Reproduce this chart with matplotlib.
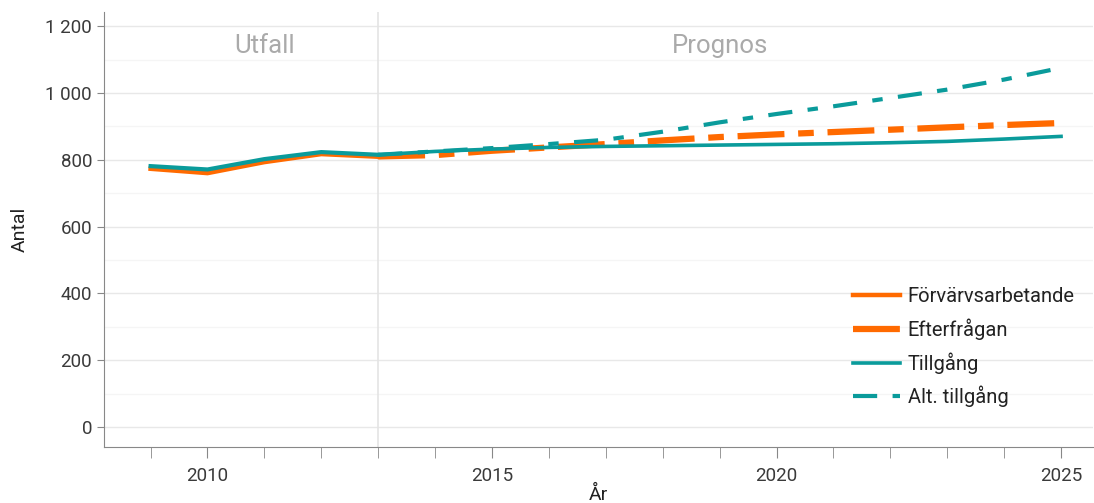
import matplotlib
matplotlib.use("Agg")
import matplotlib.pyplot as plt
from matplotlib.ticker import MultipleLocator, FuncFormatter

plt.rcParams['font.family'] = ['Roboto', 'DejaVu Sans']

# utfall
hist_years = [2009, 2010, 2011, 2012, 2013]
forvarvsarbetande = [773, 760, 793, 817, 809]
tillgang_hist = [781, 771, 802, 823, 815]

# prognos
prog_years = list(range(2013, 2026))
efterfragan = [810, 814, 827, 837, 847, 858, 868, 876, 883, 890, 897, 904, 910]
tillgang = [815, 825, 832, 837, 840, 842, 844, 846, 848, 851, 855, 862, 870]
alt_tillgang = [815, 825, 835, 847, 860, 884, 912, 937, 960, 985, 1010, 1040, 1075]

orange = '#ff6a00'
teal = '#0a9b9b'

fig = plt.figure(figsize=(10.94, 5.03), dpi=100)
ax = fig.add_axes([0.095, 0.111, 0.904, 0.865])

ax.plot(hist_years, forvarvsarbetande, color=orange, lw=3.2, label='Förvärvsarbetande', zorder=3)
ax.plot(prog_years, efterfragan, color=orange, lw=4.5, dashes=(7.5, 2.2, 2.5, 2.2), label='Efterfrågan', zorder=3)
ax.plot(hist_years, tillgang_hist, color=teal, lw=3.0, zorder=4)
ax.plot(prog_years, tillgang, color=teal, lw=2.6, label='Tillgång', zorder=4)
ax.plot(prog_years, alt_tillgang, color=teal, lw=3.0, dashes=(5.8, 3.7, 2.5, 3.7), label='Alt. tillgång', zorder=4)

ax.axvline(2013, color='#e4e4e4', lw=1.2, zorder=1)
ax.text(2011, 1140, 'Utfall', color='#aaaaaa', fontsize=18.5, ha='center', va='center')
ax.text(2019, 1140, 'Prognos', color='#aaaaaa', fontsize=18.5, ha='center', va='center')

ax.set_xlim(2008.18, 2025.56)
ax.set_ylim(-60, 1242)
ax.yaxis.set_major_locator(MultipleLocator(200))
ax.yaxis.set_minor_locator(MultipleLocator(100))
ax.xaxis.set_major_locator(MultipleLocator(5))
ax.xaxis.set_minor_locator(MultipleLocator(1))
ax.yaxis.set_major_formatter(FuncFormatter(lambda v, p: f'{int(v):,}'.replace(',', ' ')))
ax.grid(axis='y', which='major', color='#e8e8e8', lw=1.0, zorder=0)
ax.grid(axis='y', which='minor', color='#f5f5f5', lw=1.0, zorder=0)
ax.set_axisbelow(True)

for s in ['top', 'right']:
    ax.spines[s].set_visible(False)
for s in ['left', 'bottom']:
    ax.spines[s].set_color('#888888')
ax.tick_params(axis='y', which='major', length=5, color='#888888', labelsize=13.5, labelcolor='#3a3a3a')
ax.tick_params(axis='y', which='minor', length=0)
ax.tick_params(axis='x', which='both', length=8, color='#888888', labelsize=13.5, labelcolor='#3a3a3a', pad=6)
ax.set_xlabel('År', fontsize=14, color='#222222', labelpad=1)
ax.set_ylabel('Antal', fontsize=14, color='#222222', labelpad=12)

leg = ax.legend(loc='lower right', bbox_to_anchor=(1.0, 0.05), frameon=False, fontsize=14.5,
                handlelength=2.3, labelspacing=0.6, handletextpad=0.4)
for t in leg.get_texts():
    t.set_color('#222222')

fig.savefig('out.png', dpi=100)
